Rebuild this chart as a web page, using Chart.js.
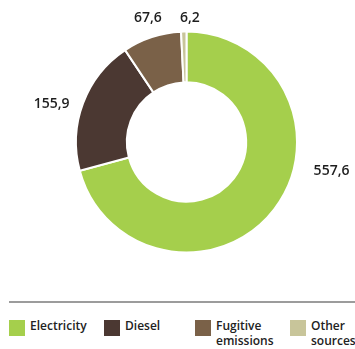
<!DOCTYPE html>
<html>
<head>
<meta charset="utf-8">
<script src="https://cdn.jsdelivr.net/npm/chart.js@4"></script>
<style>
    body { margin: 0; width: 355px; height: 349px; overflow: hidden; background: #fff; position: relative; font-family: "Open Sans", sans-serif; }
    #wrap { position: absolute; left: 0; top: 0; width: 355px; height: 290px; }
    #sep { position: absolute; left: 9px; top: 301px; width: 346px; height: 2px; background: #9c9c9c; }
    .item { position: absolute; top: 320px; }
    .box { position: absolute; left: 0; top: 0; width: 16px; height: 16px; }
    .txt { position: absolute; left: 21px; top: -2px; width: 70px; font-size: 12px; font-weight: 600; line-height: 15px; color: #222; white-space: normal; }
</style>
</head>
<body>
<div id="wrap"><canvas id="donut"></canvas></div>
<div id="sep"></div>
<div id="legend"></div>
<script>
// data
const categories = ['Electricity', 'Diesel', 'Fugitive emissions', 'Other sources'];
const emissions = [557.6, 155.9, 67.6, 6.2];
const colours = ['#a5cf4c', '#4b3832', '#7a6148', '#c8c59a'];

// value label placement: nudge from the slice middle (degrees) and distance from centre (px)
const labelNudge = [-26, -5, 1, 3];
const labelDist = [148, 140, 130, 124];

// legend columns
const legendX = [9, 104, 195, 290];

const valueLabels = {
    id: 'valueLabels',
    afterDatasetsDraw(chart) {
        const ctx = chart.ctx;
        const meta = chart.getDatasetMeta(0);
        ctx.save();
        ctx.font = '600 14px "Open Sans", sans-serif';
        ctx.fillStyle = '#1e1e1e';
        ctx.textAlign = 'center';
        ctx.textBaseline = 'middle';
        meta.data.forEach((arc, i) => {
            const p = arc.getProps(['x', 'y', 'startAngle', 'endAngle'], true);
            const mid = (p.startAngle + p.endAngle) / 2 + labelNudge[i] * Math.PI / 180;
            const x = p.x + Math.cos(mid) * labelDist[i];
            const y = p.y + Math.sin(mid) * labelDist[i];
            ctx.fillText(emissions[i].toFixed(1).replace('.', ','), x, y);
        });
        ctx.restore();
    }
};

new Chart(document.getElementById('donut'), {
    type: 'doughnut',
    data: {
        labels: categories,
        datasets: [{
            data: emissions,
            backgroundColor: colours,
            borderColor: '#ffffff',
            borderWidth: 2
        }]
    },
    options: {
        responsive: true,
        maintainAspectRatio: false,
        animation: false,
        cutout: '54%',
        layout: { padding: { top: 30, bottom: 36, left: 75, right: 57 } },
        plugins: {
            legend: { display: false },
            tooltip: { enabled: false }
        }
    },
    plugins: [valueLabels]
});

// html legend
const legend = document.getElementById('legend');
categories.forEach((name, i) => {
    const item = document.createElement('div');
    item.className = 'item';
    item.style.left = legendX[i] + 'px';
    item.innerHTML = '<div class="box" style="background:' + colours[i] + '"></div><div class="txt">' + name + '</div>';
    legend.appendChild(item);
});
</script>
</body>
</html>
